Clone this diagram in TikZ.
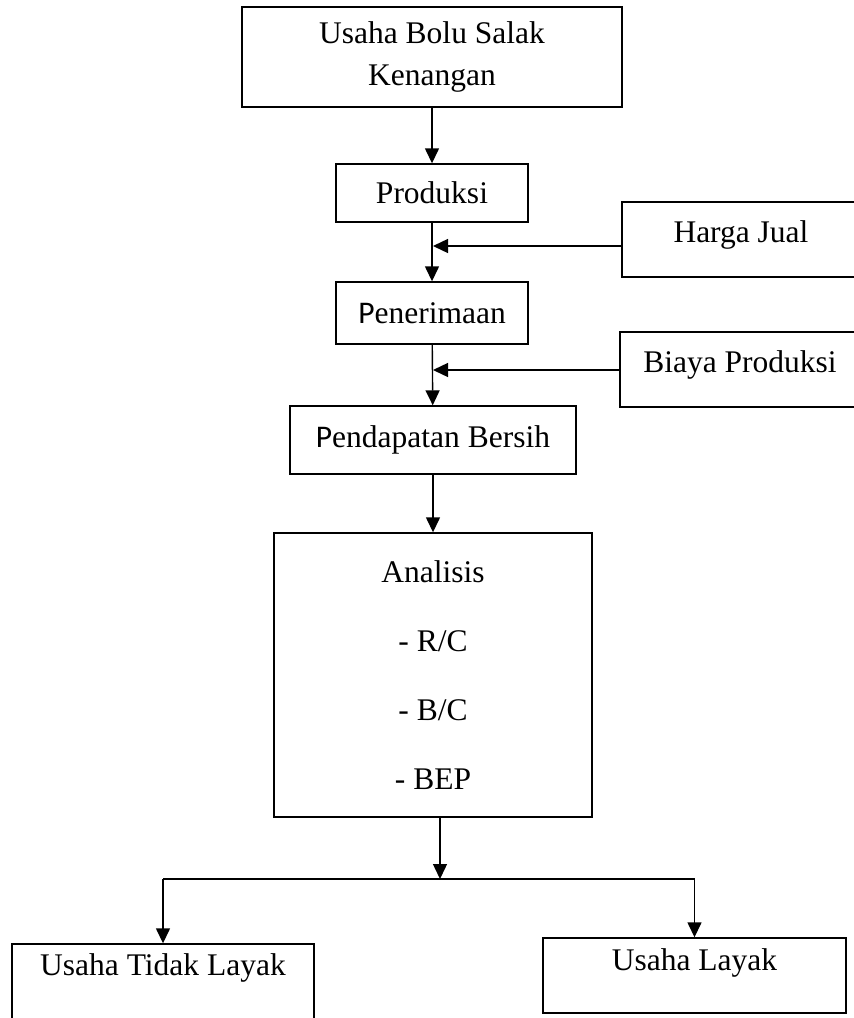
\documentclass[tikz,border=0pt]{standalone}
\usepackage{fontspec}
\setmainfont{Liberation Serif}
\newfontfamily\pfont{Carlito}
\usetikzlibrary{arrows.meta}

\begin{document}
\begin{tikzpicture}[x=1pt,y=-1pt]
        		\tikzstyle{box}=[rectangle,draw=black,line width=1.4pt,inner sep=0pt,font=\fontsize{31.5}{42}\selectfont]
        		\tikzstyle{edge}=[draw, line width=1.4pt, -{Triangle[length=15pt,width=14pt]}]
        		\tikzstyle{line}=[draw, line width=1.4pt]
        		\useasboundingbox (0,0) rectangle (854,1018);
       			\begin{scope}
        			\node [box,minimum width=380,minimum height=100,align=center] (usaha) at (432,57) {Usaha Bolu Salak\\Kenangan};
        			\node [box,minimum width=192,minimum height=58] (prod) at (432,193) {Produksi};
        			\node [box,minimum width=238,minimum height=75,text height=22pt,text depth=17pt] (harga) at (741,239.5) {Harga Jual};
        			\node [box,minimum width=192,minimum height=62] (pen) at (432,313) {{\pfont P}enerimaan};
        			\node [box,minimum width=240,minimum height=75,text height=22pt,text depth=17pt] (biaya) at (740,369.5) {Biaya Produksi};
        			\node [box,minimum width=286,minimum height=68] (pend) at (433,440) {{\pfont P}endapatan Bersih};
        			\node [box,minimum width=318,minimum height=284,align=center] (ana) at (433,675) {Analisis\\[27pt]- R/C\\[27pt]- B/C\\[27pt]- BEP};
        			\node [box,minimum width=302,minimum height=81,text height=22pt,text depth=41pt] (tidak) at (163,984.5) {Usaha Tidak Layak};
        			\node [box,minimum width=303,minimum height=75,text height=22pt,text depth=33pt] (layak) at (694.5,975.5) {Usaha Layak};
        			\coordinate (jh) at (433,246);
        			\coordinate (jb) at (433,370);
        			\coordinate (split) at (440,879);
        			\path[edge] (usaha) edge (prod);
        			\path[edge] (prod) edge (pen);
        			\draw[edge] (harga.west |- jh) -- (jh);
        			\path[edge] (pen) edge (pend);
        			\draw[edge] (biaya.west |- jb) -- (jb);
        			\path[edge] (pend) edge (ana);
        			\draw[edge] (ana.south -| split) -- (split);
        			\path[line] (tidak.north |- split) -- (layak.north |- split);
        			\draw[edge] (tidak.north |- split) -- (tidak.north);
        			\draw[edge] (layak.north |- split) -- (layak.north);
        		\end{scope}
      		\end{tikzpicture}
\end{document}
